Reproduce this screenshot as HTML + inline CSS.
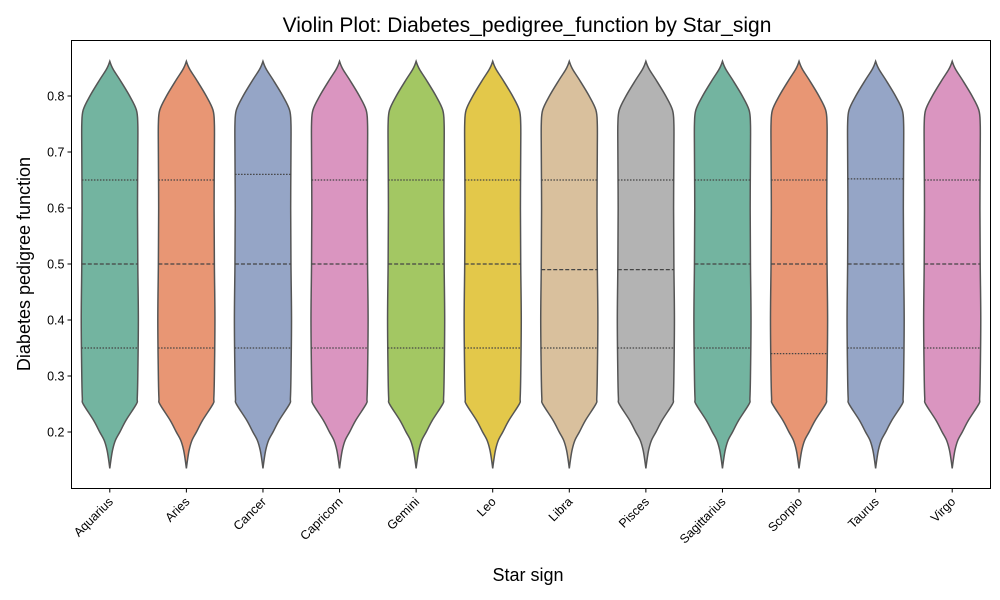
<!DOCTYPE html>
<html><head><meta charset="utf-8"><style>
body{margin:0;background:#fff}
svg{display:block;font-family:"Liberation Sans","DejaVu Sans",sans-serif}
</style></head><body>
<svg id="chart" width="1000" height="600" viewBox="0 0 1000 600">
<text x="527" y="32" font-size="21" text-anchor="middle" fill="#000">Violin Plot: Diabetes_pedigree_function by Star_sign</text>
<g id="plot"></g>
<rect x="71.5" y="40.5" width="919" height="448" fill="none" stroke="#000" stroke-width="1"/>
<text x="528" y="581" font-size="18" text-anchor="middle">Star sign</text>
<text transform="translate(30,264) rotate(-90)" font-size="18" text-anchor="middle">Diabetes pedigree function</text>
</svg>
<script>
const categories=["Aquarius","Aries","Cancer","Capricorn","Gemini","Leo","Libra","Pisces","Sagittarius","Scorpio","Taurus","Virgo"];
const q1Values=[0.35,0.35,0.35,0.35,0.35,0.35,0.35,0.35,0.35,0.34,0.35,0.35];
const medianValues=[0.5,0.5,0.5,0.5,0.5,0.5,0.49,0.49,0.5,0.5,0.5,0.5];
const q3Values=[0.65,0.65,0.66,0.65,0.65,0.65,0.65,0.65,0.65,0.65,0.652,0.65];
const densityLevels=[0.862,0.855,0.846,0.829,0.8,0.775,0.75,0.7,0.6,0.5,0.4,0.3,0.26,0.25,0.221,0.2,0.185,0.168,0.15,0.135];
const densityWidths=[0,0.05,0.14,0.36,0.71,0.95,1.0,1.0,0.99,1.0,1.02,1.0,0.98,0.95,0.58,0.36,0.2,0.1,0.04,0];
const yTicks=[0.2,0.3,0.4,0.5,0.6,0.7,0.8];
const colors=["#73b4a0","#e89674","#95a5c6","#da95c0","#a3c763","#e3c84a","#d9c09d","#b3b3b3"];
const NS="http://www.w3.org/2000/svg";
const L=71.5,R=990.5,T=40.5,B=488.5;
const y=v=>96+(0.8-v)*560;
const bw=(R-L)/categories.length;
const x=i=>L+bw*(i+0.5);
const halfMax=28;
const svg=document.getElementById('chart');
const plot=document.getElementById('plot');
function mk(tag,attrs,parent){const e=document.createElementNS(NS,tag);for(const k in attrs)e.setAttribute(k,attrs[k]);(parent||plot).appendChild(e);return e;}
function smoothPts(pts){
  let d=`M${pts[0][0]},${pts[0][1]}`;
  for(let i=0;i<pts.length-1;i++){
    const p0=pts[Math.max(i-1,0)],p1=pts[i],p2=pts[i+1],p3=pts[Math.min(i+2,pts.length-1)];
    d+=` C${p1[0]+(p2[0]-p0[0])/6},${p1[1]+(p2[1]-p0[1])/6} ${p2[0]-(p3[0]-p1[0])/6},${p2[1]-(p3[1]-p1[1])/6} ${p2[0]},${p2[1]}`;
  }
  return d;
}
categories.forEach((c,i)=>{
  const cx=x(i);
  const right=densityLevels.map((v,k)=>[cx+densityWidths[k]*halfMax,y(v)]);
  const left=densityLevels.map((v,k)=>[cx-densityWidths[k]*halfMax,y(v)]).reverse();
  const d=smoothPts(right)+" "+smoothPts(left).replace(/^M/,"L")+"Z";
  const p=mk('path',{d:d,fill:colors[i%colors.length],stroke:"#555",'stroke-width':1.5});
  
  
  const interp=v=>{for(let k=0;k<densityLevels.length-1;k++){const a=densityLevels[k],b=densityLevels[k+1];if(v<=a&&v>=b){const t=(a-v)/(a-b);return densityWidths[k]+(densityWidths[k+1]-densityWidths[k])*t;}}return 0;};
  [[q1Values[i],'q1','1.5,1.5'],[medianValues[i],'median','4,2'],[q3Values[i],'q3','1.5,1.5']].forEach(([v,n,da])=>{
    const w=interp(v)*halfMax;
    const ln=mk('line',{x1:cx-w,x2:cx+w,y1:y(v),y2:y(v),stroke:"#444",'stroke-width':1.3,'stroke-dasharray':da});
    
    
  });
  mk('line',{x1:cx,x2:cx,y1:B,y2:B+4,stroke:"#000"},svg);
  const t=mk('text',{x:0,y:0,'font-size':12.5,'text-anchor':'end',transform:`translate(${cx+4},${B+14}) rotate(-45)`},svg);
  t.textContent=c;
  
  
});
yTicks.forEach(v=>{
  mk('line',{x1:L-4,x2:L,y1:y(v),y2:y(v),stroke:"#000"},svg);
  const t=mk('text',{x:L-7,y:y(v)+4.5,'font-size':12.5,'text-anchor':'end'},svg);
  t.textContent=v.toFixed(1);
  
  
});
</script>
</body></html>
